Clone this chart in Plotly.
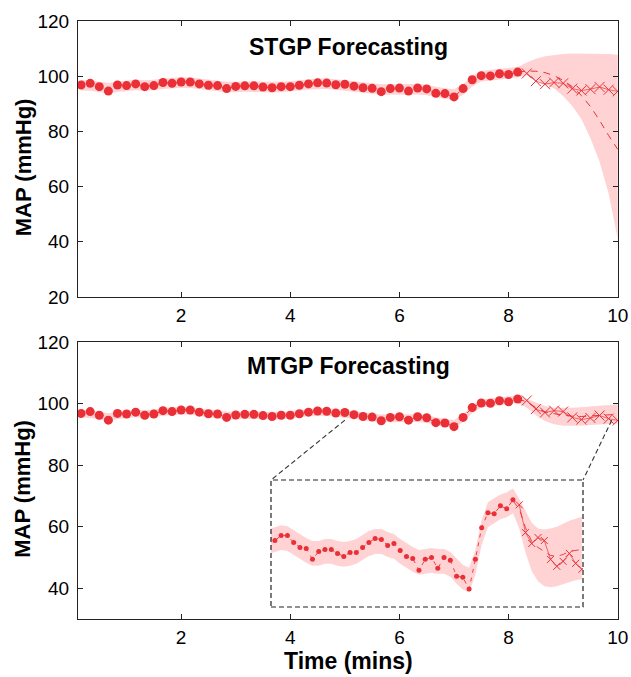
import numpy as np
import plotly.graph_objects as go

# ---- data -------------------------------------------------------------
# MAP samples every 10 s (t = 1/6 ... 49/6 min)
map_obs = [
    96.8, 97.4, 96.2, 94.6, 96.8, 96.6, 97.2, 96.2, 96.6, 97.7,
    97.4, 97.9, 97.9, 97.2, 96.7, 96.6, 95.5, 96.3, 96.5, 96.5,
    96.1, 95.8, 96.2, 96.2, 96.7, 97.2, 97.6, 97.5, 96.9, 97.1,
    96.4, 95.8, 95.6, 94.4, 95.5, 95.7, 94.6, 95.7, 95.4, 93.8,
    93.7, 92.5, 95.5, 98.7, 100.2, 100.1, 100.9, 100.6, 101.5,
]
# GP posterior mean over the observed window
fit_obs = [
    96.7, 96.6, 96.1, 95.6, 96.2, 96.6, 96.8, 96.6, 96.8, 97.3,
    97.5, 97.7, 97.6, 97.2, 96.8, 96.4, 96.1, 96.1, 96.3, 96.3,
    96.1, 96.0, 96.1, 96.3, 96.7, 97.1, 97.3, 97.3, 97.0, 96.8,
    96.3, 95.9, 95.5, 95.2, 95.3, 95.4, 95.3, 95.3, 95.0, 94.3,
    93.7, 93.4, 95.2, 98.2, 100.0, 100.4, 100.8, 101.0, 101.4,
]
# held-out samples over the forecast window (t = 50/6 ... 10 min)
map_test = [101.0, 98.2, 97.1, 97.7, 97.4, 95.5, 94.8, 95.3, 96.1, 95.1, 94.5]

# single-task GP forecast
stgp_half_width = 1.9
stgp_fc_mean = [101.9, 101.8, 101.3, 100.2, 98.5, 96.2, 93.0, 89.0, 84.0, 78.5, 73.5]
stgp_fc_upper = [105.0, 106.3, 107.2, 107.7, 108.0, 108.2, 108.2, 108.2, 108.1, 108.0, 107.8]
stgp_fc_lower = [100.3, 98.8, 97.2, 95.5, 92.8, 89.2, 84.5, 77.5, 69.0, 57.5, 41.0]

# multi-task GP forecast
mtgp_half_width = 1.25
mtgp_fc_mean = [100.6, 98.7, 97.3, 96.7, 96.3, 95.9, 95.8, 96.0, 96.3, 96.4, 96.5]
mtgp_fc_upper = [101.6, 100.4, 99.2, 98.6, 98.5, 98.6, 98.8, 99.1, 99.4, 99.6, 99.8]
mtgp_fc_lower = [98.6, 96.2, 94.3, 93.3, 92.8, 92.7, 92.8, 93.0, 93.2, 93.4, 93.5]

# zoom window shown in the inset, and the points its leader lines start from
inset_x_range = [1.73, 10.03]
inset_y_range = [90.7, 103.5]
leader_starts = [(5.0, 94.6), (9.89, 94.6)]

x_ticks = [2, 4, 6, 8, 10]
top_y_ticks = [20, 40, 60, 80, 100, 120]
bottom_y_ticks = [40, 60, 80, 100, 120]

# ---- derived series ---------------------------------------------------
n_obs = len(map_obs)
n_fc = len(map_test)
t_obs = np.arange(1, n_obs + 1) / 6.0
t_fc = np.arange(n_obs + 1, n_obs + n_fc + 1) / 6.0
t_all = np.concatenate([t_obs, t_fc])

RED = "#EA2F37"
BAND = "#FFD3D3"
FONT = "Liberation Sans, Arial, Helvetica, sans-serif"

fig = go.Figure()


def add_panel(xa, ya, half_width, fc_mean, fc_upper, fc_lower,
              dot_size, cross_size, line_w):
    upper = np.concatenate([np.array(fit_obs) + half_width, fc_upper])
    lower = np.concatenate([np.array(fit_obs) - half_width, fc_lower])
    fig.add_trace(go.Scatter(
        x=np.concatenate([t_all, t_all[::-1]]),
        y=np.concatenate([upper, lower[::-1]]),
        fill="toself", fillcolor=BAND, line=dict(width=0),
        mode="lines", hoverinfo="skip", showlegend=False,
        xaxis=xa, yaxis=ya))
    # forecast mean, continuing from the last fitted value
    fig.add_trace(go.Scatter(
        x=np.concatenate([[t_obs[-1]], t_fc]),
        y=np.concatenate([[fit_obs[-1]], fc_mean]),
        mode="lines", line=dict(color=RED, width=line_w, dash="7px,6px"),
        showlegend=False, xaxis=xa, yaxis=ya))
    # held-out samples
    fig.add_trace(go.Scatter(
        x=t_fc, y=map_test, mode="lines+markers",
        line=dict(color=RED, width=0.7),
        marker=dict(symbol="x-thin", size=cross_size,
                    line=dict(color=RED, width=1)),
        showlegend=False, xaxis=xa, yaxis=ya))
    # observed samples
    fig.add_trace(go.Scatter(
        x=t_obs, y=map_obs, mode="lines+markers",
        line=dict(color=RED, width=line_w, dash="4px,5px"),
        marker=dict(symbol="circle", size=dot_size, color=RED),
        showlegend=False, xaxis=xa, yaxis=ya))


add_panel("x", "y", stgp_half_width, stgp_fc_mean, stgp_fc_upper,
          stgp_fc_lower, 9, 10, 1)
add_panel("x2", "y2", mtgp_half_width, mtgp_fc_mean, mtgp_fc_upper,
          mtgp_fc_lower, 9, 10, 1)
add_panel("x3", "y3", mtgp_half_width, mtgp_fc_mean, mtgp_fc_upper,
          mtgp_fc_lower, 5, 7, 0.9)

axis_common = dict(
    showline=True, linecolor="#222", linewidth=1, mirror="ticks",
    ticks="inside", ticklen=5, tickwidth=1, tickcolor="#222",
    showgrid=False, zeroline=False, automargin=False,
    tickfont=dict(family=FONT, size=19, color="black"),
)

top_dom = [0.5385, 1.0]
bot_dom = [0.0, 0.4632]
x_range = [0.11, 10.005]
inset_x_dom = [0.3574, 0.9352]
inset_y_dom = [0.0201, 0.2324]

fig.update_layout(
    width=631, height=677,
    margin=dict(l=78, r=13, t=21, b=58, autoexpand=False),
    paper_bgcolor="white", plot_bgcolor="white",
    font=dict(family=FONT, color="black"),
    xaxis=dict(axis_common, domain=[0, 1], range=x_range, tickvals=x_ticks,
               anchor="y", ticklabelstandoff=1),
    yaxis=dict(axis_common, domain=top_dom, range=[20, 120],
               tickvals=top_y_ticks, anchor="x", ticklabelstandoff=4),
    xaxis2=dict(axis_common, domain=[0, 1], range=x_range, tickvals=x_ticks,
                anchor="y2", ticklabelstandoff=1),
    yaxis2=dict(axis_common, domain=bot_dom, range=[30, 120],
                tickvals=bottom_y_ticks, anchor="x2", ticklabelstandoff=4),
    xaxis3=dict(domain=inset_x_dom, range=inset_x_range, anchor="y3",
                visible=False, fixedrange=True, automargin=False),
    yaxis3=dict(domain=inset_y_dom, range=inset_y_range, anchor="x3",
                visible=False, fixedrange=True, automargin=False),
)


def to_paper(t, v, xdom, xr, ydom, yr):
    px = xdom[0] + (t - xr[0]) / (xr[1] - xr[0]) * (xdom[1] - xdom[0])
    py = ydom[0] + (v - yr[0]) / (yr[1] - yr[0]) * (ydom[1] - ydom[0])
    return px, py


# inset frame
fig.add_shape(type="rect", xref="x3 domain", yref="y3 domain",
              x0=0, x1=1, y0=0, y1=1,
              line=dict(color="#222", width=1.2, dash="5px,3px"))
# leader lines from the zoomed region to the inset's upper corners
for (t0, v0), corner_x in zip(leader_starts, inset_x_dom):
    sx, sy = to_paper(t0, v0, [0, 1], x_range, bot_dom, [30, 120])
    fig.add_shape(type="line", xref="paper", yref="paper",
                  x0=sx, y0=sy, x1=corner_x, y1=inset_y_dom[1],
                  line=dict(color="#333", width=1.1, dash="5px,3px"))

title_font = dict(family=FONT, size=23, color="black")
label_font = dict(family=FONT, size=22, color="black")
fig.add_annotation(text="<b>STGP Forecasting</b>", xref="x domain",
                   yref="y domain", x=0.5, y=0.906, showarrow=False,
                   font=title_font, xanchor="center", yanchor="middle")
fig.add_annotation(text="<b>MTGP Forecasting</b>", xref="x2 domain",
                   yref="y2 domain", x=0.5, y=0.913, showarrow=False,
                   font=title_font, xanchor="center", yanchor="middle")
for dom in (top_dom, bot_dom):
    fig.add_annotation(text="<b>MAP (mmHg)</b>", xref="paper", yref="paper",
                       x=-0.102, y=(dom[0] + dom[1]) / 2 - 0.014,
                       textangle=-90, showarrow=False, font=label_font,
                       xanchor="center", yanchor="middle")
fig.add_annotation(text="<b>Time (mins)</b>", xref="paper", yref="paper",
                   x=0.5, y=-0.070, showarrow=False, font=title_font,
                   xanchor="center", yanchor="middle")

fig.write_html("out.html")
